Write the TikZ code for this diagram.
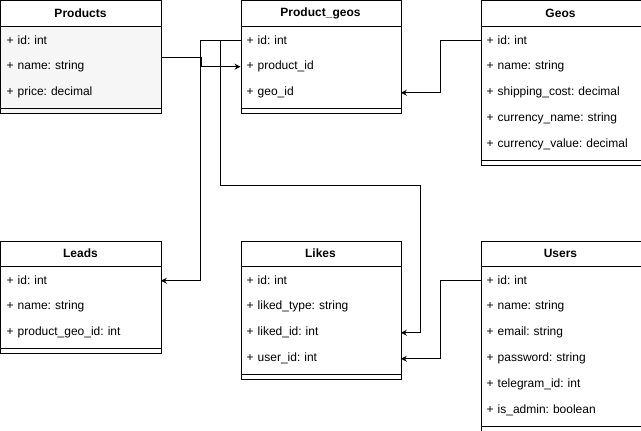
\documentclass[tikz,border=0pt]{standalone}
\usepackage{fontspec}
\setmainfont{Liberation Sans}
\usetikzlibrary{arrows.meta}
\tikzset{
  table/.style={draw, line width=1pt, inner sep=0pt, minimum width=160pt, anchor=north west},
  title/.style={inner sep=0pt, font=\fontsize{12}{14}\selectfont\bfseries},
  field/.style={inner xsep=6pt, inner ysep=0pt, minimum height=26pt, text width=148pt, align=left, anchor=north west, font=\fontsize{12}{14}\selectfont\frenchspacing},
  link/.style={line width=1pt, -{Stealth[length=6pt,width=6pt,inset=2pt]}}
}
\begin{document}
\begin{tikzpicture}[x=1pt,y=-1pt]
    \useasboundingbox (-0.5,-0.5) rectangle (640.5,430.5);
    %Products
    \fill[gray!7] (0,26) rectangle (160,112);
    \node[table, minimum height=112pt] (products) at (0,0) {};
    \draw[line width=1pt] (0,26) -- (160,26) (0,108) -- (160,108);
    \node[title] (products-title) at (80,13) {Products};
    \foreach \f [count=\i] in {+ id: int, + name: string, + price: decimal}
      \node[field] (products-\i) at (0,26*\i+1) {\f};
    %Product_geos
    \node[table, minimum height=112pt] (pgeos) at (240,0) {};
    \draw[line width=1pt] (240,26) -- (400,26) (240,108) -- (400,108);
    \node[title] (pgeos-title) at (320,13) {Product\_geos};
    \foreach \f [count=\i] in {+ id: int, + product\_id, + geo\_id}
      \node[field] (pgeos-\i) at (240,26*\i+1) {\f};
    %Geos
    \node[table, minimum height=164pt] (geos) at (480,0) {};
    \draw[line width=1pt] (480,26) -- (640,26) (480,160) -- (640,160);
    \node[title] (geos-title) at (560,13) {Geos};
    \foreach \f [count=\i] in {+ id: int, + name: string, + shipping\_cost: decimal, + currency\_name: string, + currency\_value: decimal}
      \node[field] (geos-\i) at (480,26*\i+1) {\f};
    %Leads
    \node[table, minimum height=112pt] (leads) at (0,240) {};
    \draw[line width=1pt] (0,266) -- (160,266) (0,348) -- (160,348);
    \node[title] (leads-title) at (80,253) {Leads};
    \foreach \f [count=\i] in {+ id: int, + name: string, + product\_geo\_id: int}
      \node[field] (leads-\i) at (0,240+26*\i+1) {\f};
    %Likes
    \node[table, minimum height=138pt] (likes) at (240,240) {};
    \draw[line width=1pt] (240,266) -- (400,266) (240,374) -- (400,374);
    \node[title] (likes-title) at (320,253) {Likes};
    \foreach \f [count=\i] in {+ id: int, + liked\_type: string, + liked\_id: int, + user\_id: int}
      \node[field] (likes-\i) at (240,240+26*\i+1) {\f};
    %Users
    \node[table, minimum height=190pt] (users) at (480,240) {};
    \draw[line width=1pt] (480,266) -- (640,266) (480,426) -- (640,426);
    \node[title] (users-title) at (560,253) {Users};
    \foreach \f [count=\i] in {+ id: int, + name: string, + email: string, + password: string, + telegram\_id: int, + is\_admin: boolean}
      \node[field] (users-\i) at (480,240+26*\i+1) {\f};
    %Links
    \draw[link] (products.east) -- ++(40,0) |- (pgeos-2.west);
    \draw[link] (pgeos-1.west) -- ++(-40,0) |- (leads-1.east);
    \draw[link] (pgeos-1.west) -- ++(-20,0) -- ++(0,145) -| ([xshift=20pt]likes-3.east) -- (likes-3.east);
    \draw[link] (geos-1.west) -- ++(-40,0) |- (pgeos-3.east);
    \draw[link] (users-1.west) -- ++(-40,0) |- (likes-4.east);
\end{tikzpicture}
\end{document}
